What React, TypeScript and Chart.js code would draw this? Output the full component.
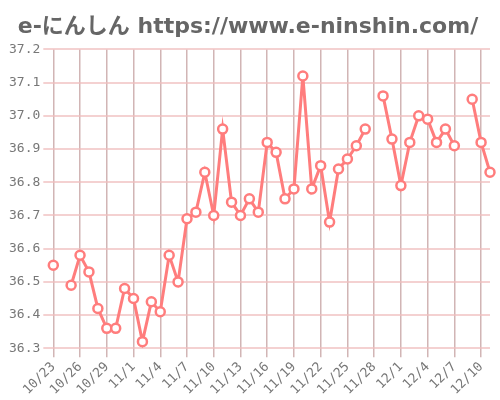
import { useEffect, useRef } from "react";
import { Chart, registerables } from "chart.js";

Chart.register(...registerables);

const title = "e-にんしん https://www.e-ninshin.com/";

const dates = [
  "10/23", "10/24", "10/25", "10/26", "10/27", "10/28", "10/29", "10/30", "10/31",
  "11/1", "11/2", "11/3", "11/4", "11/5", "11/6", "11/7", "11/8", "11/9", "11/10",
  "11/11", "11/12", "11/13", "11/14", "11/15", "11/16", "11/17", "11/18", "11/19",
  "11/20", "11/21", "11/22", "11/23", "11/24", "11/25", "11/26", "11/27", "11/28",
  "11/29", "11/30", "12/1", "12/2", "12/3", "12/4", "12/5", "12/6", "12/7", "12/8",
  "12/9", "12/10", "12/11",
];

// basal body temperature, null = not measured
const temps = [
  36.55, null, 36.49, 36.58, 36.53, 36.42, 36.36, 36.36, 36.48,
  36.45, 36.32, 36.44, 36.41, 36.58, 36.5, 36.69, 36.71, 36.83, 36.7,
  36.96, 36.74, 36.7, 36.75, 36.71, 36.92, 36.89, 36.75, 36.78,
  37.12, 36.78, 36.85, 36.68, 36.84, 36.87, 36.91, 36.96, null,
  37.06, 36.93, 36.79, 36.92, 37.0, 36.99, 36.92, 36.96, 36.91, null,
  37.05, 36.92, 36.83,
];

const yMin = 36.3;
const yMax = 37.2;

const App = () => {
  const canvasRef = useRef<HTMLCanvasElement>(null);
  const chartRef = useRef<Chart | null>(null);

  useEffect(() => {
    if (!canvasRef.current) return;
    const ctx = canvasRef.current.getContext("2d");
    if (!ctx) return;

    chartRef.current = new Chart(ctx, {
      type: "line",
      data: {
        labels: dates,
        datasets: [
          {
            label: "体温",
            data: temps,
            borderColor: "rgb(255,125,125)",
            borderWidth: 3,
            backgroundColor: "#fff",
            pointBackgroundColor: "#fff",
            pointBorderColor: "rgb(255,125,125)",
            pointBorderWidth: 2.5,
            pointRadius: 4.5,
            tension: 0,
            spanGaps: false,
          },
        ],
      },
      options: {
        animation: false,
        responsive: false,
        layout: { padding: { left: 6, right: 10, top: 0, bottom: 0 } },
        plugins: {
          legend: { display: false },
          tooltip: { enabled: false },
          title: {
            display: true,
            text: title,
            color: "#666",
            font: { family: "'DejaVu Sans', 'Noto Sans CJK JP', sans-serif", size: 22, weight: "bold" },
            padding: { top: 14, bottom: 9 },
          },
        },
        scales: {
          x: {
            offset: false,
            grid: {
              color: "rgba(190,150,150,0.7)",
              lineWidth: 1.5,
              tickLength: 9,
            },
            border: { display: false },
            ticks: {
              autoSkip: false,
              maxRotation: 45,
              minRotation: 45,
              padding: 2,
              color: "#777",
              font: { family: "'DejaVu Sans Mono', monospace", size: 13 },
              callback: (_v, i) => (i % 3 === 0 ? dates[i] : null),
            },
          },
          y: {
            min: yMin,
            max: yMax,
            grid: {
              color: "rgba(240,190,190,0.7)",
              lineWidth: 2,
              tickLength: 10,
            },
            border: { display: false },
            ticks: {
              stepSize: 0.1,
              color: "#777",
              padding: 3,
              font: { family: "'DejaVu Sans Mono', monospace", size: 13 },
              callback: (v) => Number(v).toFixed(1),
            },
          },
        },
      },
    });

    return () => {
      if (chartRef.current) {
        chartRef.current.destroy();
        chartRef.current = null;
      }
    };
  }, []);

  return (
    <div style={{ position: "fixed", left: 0, top: 0, width: 500, height: 400, background: "#fff" }}>
      <canvas ref={canvasRef} width={500} height={400} />
    </div>
  );
};

export default App;
